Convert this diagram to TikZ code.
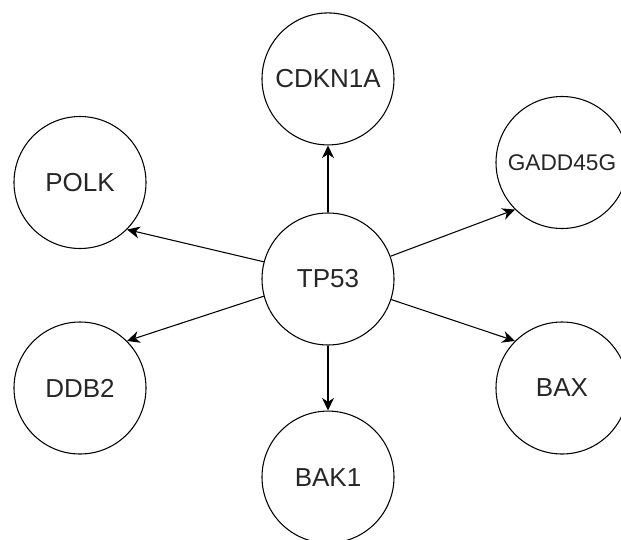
\documentclass[tikz,border=0pt]{standalone}
\usepackage{fontspec}
\setmainfont{Liberation Sans}
\usepackage{tikz}
\usetikzlibrary{arrows.meta,positioning}

\begin{document}
\begin{tikzpicture}[
  x=0.75pt, y=-0.75pt,
  font=\fontsize{19.5}{23}\selectfont,
  gene/.style={draw, circle, line width=0.8pt, minimum size=99pt, inner sep=0pt, text=black!85},
  arr/.style={-{Stealth[length=9.5pt, width=9pt, inset=3pt]}, line width=0.8pt}
]
\useasboundingbox (0,0) rectangle (621,539);
\node[gene] (tp53) at (328,279) {TP53};
\node[gene, above=50.25pt of tp53] (cdkn) {CDKN1A};
\node[gene, below=48.75pt of tp53] (bak) {BAK1};
\node[gene] (polk) at (80,182.5) {POLK};
\node[gene] (ddb) at (80,388) {DDB2};
\node[gene, font=\fontsize{17}{20}\selectfont] (gadd) at (562,162.5) {GADD45G};
\node[gene] (bax) at (562,388) {BAX};
\draw[arr] (tp53) -- (cdkn);
\draw[arr] (tp53) -- (bak);
\draw[arr] (tp53.165) -- (polk.-45);
\draw[arr] (tp53.195) -- (ddb.45);
\draw[arr] (tp53.20) -- (gadd.225);
\draw[arr] (tp53.-18) -- (bax.135);
\end{tikzpicture}
\end{document}
